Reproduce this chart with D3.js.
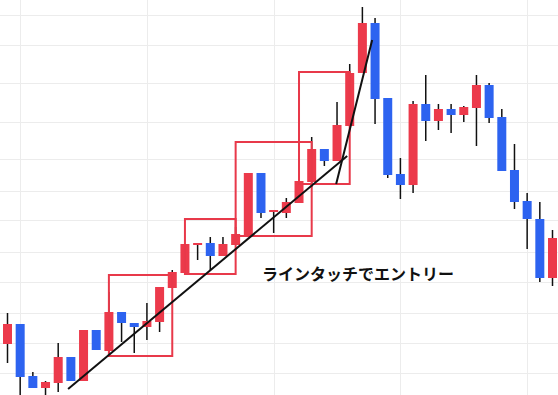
<!DOCTYPE html>
<html>
<head>
<meta charset="utf-8">
<script src="https://cdn.jsdelivr.net/npm/d3@7"></script>
<style>
  html, body { margin: 0; padding: 0; background: #fff; }
  svg { display: block; }
</style>
</head>
<body>
<div id="chart"></div>
<script>
// candle data (price units, up = higher)
const opens  = [56, 76, 24, 12, 17, 43, 19, 70, 49, 88, 77, 73, 78, 112, 127, 155, 157, 144, 155, 164, 227, 188,
                187, 197, 218, 251, 239, 274, 327, 377, 302, 226, 215, 296, 279, 291, 285, 292, 315, 283, 230, 199, 181, 122];
const highs  = [87, 76, 28, 19, 57, 43, 70, 70, 108, 88, 77, 97, 113, 130, 156, 157, 163, 163, 173, 227, 227, 190,
                202, 219, 263, 251, 298, 336, 393, 382, 302, 242, 299, 325, 296, 296, 294, 325, 317, 291, 256, 207, 198, 170];
const lows   = [37, -5, 12, -5, 8, 19, 19, 50, 43, 58, 47, 60, 68, 112, 127, 140, 130, 144, 155, 164, 182, 167,
                182, 197, 213, 234, 239, 274, 327, 276, 222, 201, 207, 259, 270, 267, 278, 254, 277, 229, 191, 151, 118, 114];
const closes = [76, 23, 12, 18, 43, 19, 70, 50, 88, 77, 73, 79, 113, 128, 156, 157, 144, 156, 166, 227, 187, 190,
                198, 219, 251, 239, 275, 327, 377, 301, 225, 215, 296, 279, 291, 285, 293, 315, 282, 229, 198, 181, 122, 162];

const gridPrices = [385, 355, 317, 278, 241, 209, 180, 148, 118, 87, 57, 27];
const gridCandles = [1, 11, 21, 31, 41];

// highlighted ranges: first candle, last candle, top price, bottom price
const boxStart  = [8, 14, 18, 23];
const boxEnd    = [13, 18, 24, 27];
const boxTop    = [125, 181, 258, 328];
const boxBottom = [44, 126, 164, 216];

// trend lines: [candle index, price] pairs
const trendLines = [
  [[4.78, 11], [26.8, 244]],
  [[25.93, 216], [28.77, 360]]
];

const noteText = "ラインタッチでエントリー";

const width = 558, height = 395;
const upColor = "#ec3a4b", downColor = "#2d63f0";

const candles = opens.map((o, i) => ({ i, o, h: highs[i], l: lows[i], c: closes[i] }));

const x = d3.scaleLinear().domain([0, candles.length - 1]).range([7.5, 552.5]);
const y = d3.scaleLinear().domain([0, 400]).range([400, 0]);
const bodyW = 9;

const svg = d3.select("#chart").append("svg")
  .attr("width", width)
  .attr("height", height);

// grid
svg.append("g")
  .attr("stroke", "#ececec")
  .attr("stroke-width", 1)
  .call(g => g.selectAll("line.h").data(gridPrices).join("line")
    .attr("class", "h")
    .attr("x1", 0).attr("x2", width)
    .attr("y1", d => Math.round(y(d)) + 0.5).attr("y2", d => Math.round(y(d)) + 0.5))
  .call(g => g.selectAll("line.v").data(gridCandles).join("line")
    .attr("class", "v")
    .attr("y1", 0).attr("y2", height)
    .attr("x1", d => Math.round(x(d)) + 0.5).attr("x2", d => Math.round(x(d)) + 0.5));

// candles
const candle = svg.append("g")
  .selectAll("g")
  .data(candles)
  .join("g");

candle.append("line")
  .attr("x1", d => x(d.i)).attr("x2", d => x(d.i))
  .attr("y1", d => y(d.h)).attr("y2", d => y(d.l))
  .attr("stroke", "#111")
  .attr("stroke-width", 1.5);

candle.append("rect")
  .attr("x", d => x(d.i) - bodyW / 2)
  .attr("width", bodyW)
  .attr("y", d => y(Math.max(d.o, d.c)))
  .attr("height", d => Math.max(1.5, Math.abs(y(d.o) - y(d.c))))
  .attr("fill", d => d.c >= d.o ? upColor : downColor);

// boxes
svg.append("g")
  .attr("fill", "none")
  .attr("stroke", "#e8394a")
  .attr("stroke-width", 2)
  .selectAll("rect")
  .data(boxStart.map((s, k) => ({ s, e: boxEnd[k], t: boxTop[k], b: boxBottom[k] })))
  .join("rect")
  .attr("x", d => x(d.s))
  .attr("y", d => y(d.t))
  .attr("width", d => x(d.e) - x(d.s))
  .attr("height", d => y(d.b) - y(d.t));

// trend lines
svg.append("g")
  .attr("stroke", "#111")
  .attr("stroke-width", 2)
  .selectAll("line")
  .data(trendLines)
  .join("line")
  .attr("x1", d => x(d[0][0])).attr("y1", d => y(d[0][1]))
  .attr("x2", d => x(d[1][0])).attr("y2", d => y(d[1][1]));

// note
svg.append("text")
  .attr("x", 262)
  .attr("y", 280)
  .attr("font-family", "'Noto Sans CJK JP', 'Noto Sans', sans-serif")
  .attr("font-size", 16)
  .attr("font-weight", "bold")
  .attr("fill", "#111")
  .text(noteText);
</script>
</body>
</html>
